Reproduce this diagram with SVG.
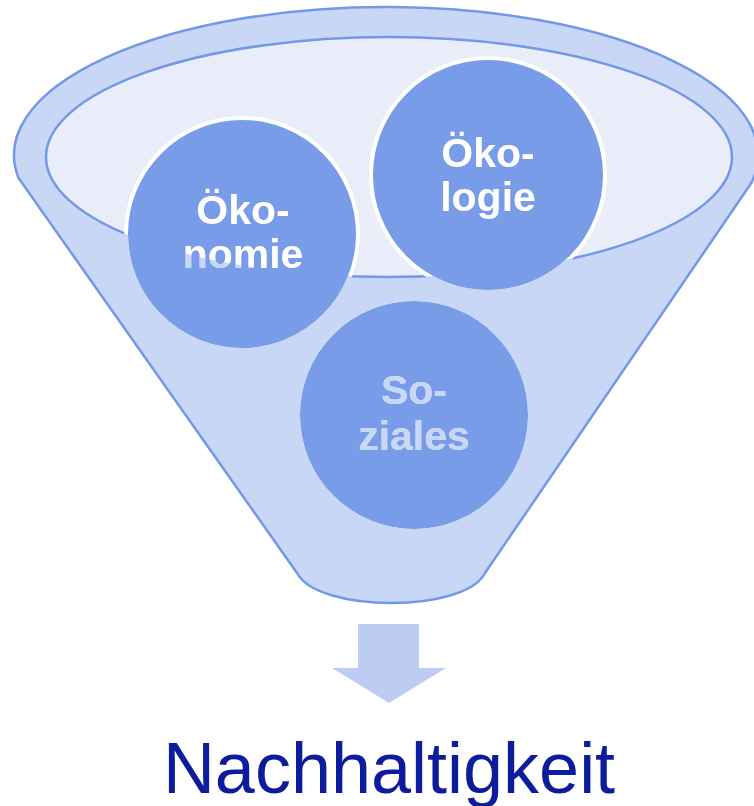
<svg xmlns="http://www.w3.org/2000/svg" width="754" height="806" viewBox="0 0 754 806">
<style>
.funnel{fill:#C8D7F5;stroke:#7399E6;stroke-width:2.5}
.inner{fill:#E8EDF9;stroke:#7399E6;stroke-width:2.5}
.circ{fill:#789CE8;stroke:#FFFFFF;stroke-width:4}
.lbl{font-family:"Liberation Sans",Arial,sans-serif;font-weight:bold;font-size:41px;fill:#FFFFFF;text-anchor:middle}
.over{fill:#C8D7F5;fill-rule:evenodd;mix-blend-mode:darken}
</style>
<g id="funnel">
<path class="funnel" d="M 18.5,178 A 372 148 0 1 1 751.3,183 L 485,573 C 465,613 318,613 297,573 Z"/>
<ellipse class="inner" cx="389" cy="157" rx="343" ry="120"/>
</g>
<g id="oekonomie">
<circle class="circ" cx="242" cy="234" r="116"/>
<text class="lbl" x="243" y="224">Öko-</text>
<text class="lbl" x="243" y="268">nomie</text>
</g>
<g id="oekologie">
<circle class="circ" cx="488" cy="175" r="117"/>
<text class="lbl" x="488" y="167">Öko-</text>
<text class="lbl" x="488" y="211">logie</text>
</g>
<g id="soziales">
<circle class="circ" cx="414" cy="415" r="116"/>
<text class="lbl" x="414" y="404">So-</text>
<text class="lbl" x="414" y="450">ziales</text>
</g>
<path id="front" class="over" d="M 18.5,178 A 372 148 0 1 1 751.3,183 L 485,573 C 465,613 318,613 297,573 Z M 46,157 A 343 120 0 1 0 732,157 A 343 120 0 1 0 46,157 Z"/>
<g id="connectors">
<path d="M 358,624 L 419,624 L 419,668 L 446,668 L 389,703 L 332,668 L 358,668 Z" fill="#BDCCF3"/>
</g>
<g id="result">
<text x="389" y="793" font-family="Liberation Sans, Arial, sans-serif" font-size="72" fill="#0C1C9C" text-anchor="middle">Nachhaltigkeit</text>
</g>
</svg>
